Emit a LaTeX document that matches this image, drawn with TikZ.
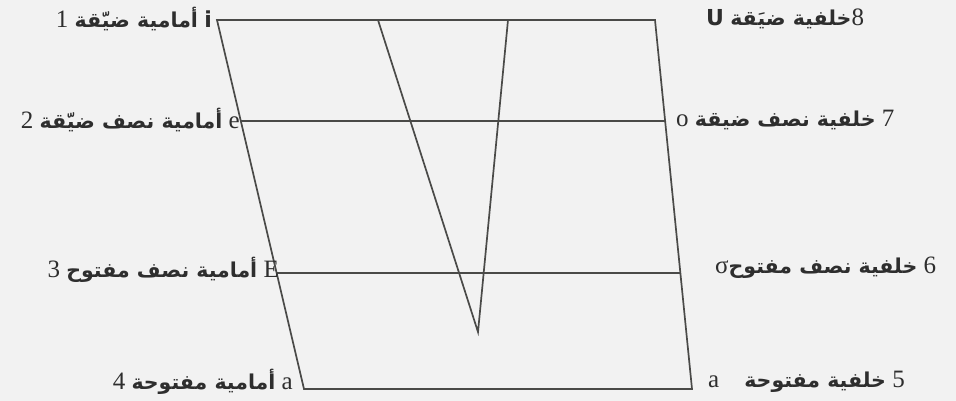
\documentclass[tikz,border=0pt]{standalone}
\usepackage{fontspec}
\usetikzlibrary{calc}
\setmainfont{Liberation Serif}
\newfontfamily\arabicfont[Script=Arabic]{DejaVu Sans}
\newfontfamily\latsans{DejaVu Sans}
\TeXXeTstate=1
\newcommand\artxt[1]{{\arabicfont\bfseries\fontsize{20.5}{24}\selectfont\beginR #1\endR}}
\definecolor{bgc}{HTML}{F2F2F2}
\definecolor{lnc}{HTML}{4A4A48}
\definecolor{txc}{HTML}{2E2E2E}
\begin{document}
\begin{tikzpicture}[x=1pt,y=-1pt,
  ln/.style={draw=lnc,line width=1.7pt,line join=miter},
  lbl/.style={inner sep=0pt,text=txc,font=\fontsize{25}{28}\selectfont}]
\fill[bgc] (0,0) rectangle (956,401);
\useasboundingbox (0,0) rectangle (956,401);
% quadrilateral corners
\coordinate (TL) at (217,20);
\coordinate (TR) at (655,20);
\coordinate (BL) at (304,389);
\coordinate (BR) at (692,389);
% mid lines
\coordinate (L2) at ($(TL)!{(121-20)/369}!(BL)$);
\coordinate (R2) at ($(TR)!{(121-20)/369}!(BR)$);
\coordinate (L3) at ($(TL)!{(273-20)/369}!(BL)$);
\coordinate (R3) at ($(TR)!{(273-20)/369}!(BR)$);
% V
\coordinate (V1) at (378,20);
\coordinate (V2) at (508,20);
\coordinate (V0) at (478,332);
\draw[ln] (TL) -- (TR) -- (BR) -- (BL) -- cycle;
\draw[ln] (L2) -- (R2);
\draw[ln] (L3) -- (R3);
\draw[ln] (V1) -- (V0) -- (V2);
% left labels
\node[lbl,anchor=east] (l1) at (212,19) {1 \artxt{أمامية ضيّقة} {\latsans\bfseries\fontsize{22}{24}\selectfont i}};
\node[lbl,anchor=east] (l2) at (240,120) {2 \artxt{أمامية نصف ضيّقة} e};
\node[lbl,anchor=east] (l3) at (279,270) {3 \artxt{أمامية نصف مفتوح} E};
\node[lbl,anchor=east] (l4) at (293,382) {4 \artxt{أمامية مفتوحة} a};
% right labels
\node[lbl,anchor=west] (r8) at (706,19) {{\latsans\bfseries\fontsize{22}{24}\selectfont U} \artxt{خلفية ضيَقة}8};
\node[lbl,anchor=west] (r7) at (676,120) {o \artxt{خلفية نصف ضيقة} 7};
\node[lbl,anchor=west] (r6) at (715,268) {σ\artxt{خلفية نصف مفتوح} 6};
\node[lbl,anchor=west] (r5) at (708,382) {a\quad\artxt{خلفية مفتوحة} 5};
\end{tikzpicture}
\end{document}
